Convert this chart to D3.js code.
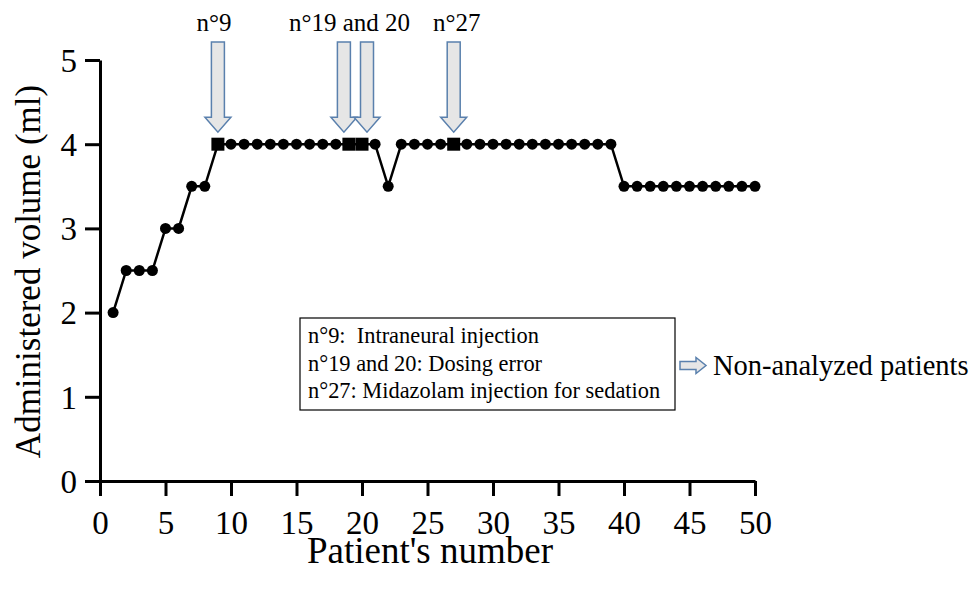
<!DOCTYPE html>
<html>
<head>
<meta charset="utf-8">
<script src="https://cdn.jsdelivr.net/npm/d3@7"></script>
<style>
  body { margin: 0; background: #fff; }
  svg text { font-family: "Liberation Serif", "Times New Roman", Times, "DejaVu Serif", serif !important; }
</style>
</head>
<body>
<script>
const width = 970,
      height = 589

// patient number 1..50 and administered volume (ml)
const patients = d3.range(1, 51)
const volumes = [
  2, 2.5, 2.5, 2.5, 3, 3, 3.5, 3.5, 4, 4,
  4, 4, 4, 4, 4, 4, 4, 4, 4, 4,
  4, 3.5, 4, 4, 4, 4, 4, 4, 4, 4,
  4, 4, 4, 4, 4, 4, 4, 4, 4, 3.5,
  3.5, 3.5, 3.5, 3.5, 3.5, 3.5, 3.5, 3.5, 3.5, 3.5
]
// non-analyzed patients (square markers)
const excluded = [9, 19, 20, 27]
const arrowLabels = ['n°9', 'n°19 and 20', 'n°27']
const arrowGroups = [[9], [19, 20], [27]]
const legendLines = [
  'n°9:  Intraneural injection',
  'n°19 and 20: Dosing error',
  'n°27: Midazolam injection for sedation'
]
const legendNote = 'Non-analyzed patients'
const xTicks = d3.range(0, 51, 5)
const yTicks = [0, 1, 2, 3, 4, 5]

const data = patients.map((p, i) => ({ patient: p, volume: volumes[i] }))

const x = d3.scaleLinear().domain([0, 50]).range([100, 755])
const y = d3.scaleLinear().domain([0, 5]).range([481, 60])

const svg = d3.select('body').append('svg')
    .attr('width', width)
    .attr('height', height)

// axes
const xAxis = svg.append('g')
    .attr('transform', `translate(0,${y(0)})`)
    .call(d3.axisBottom(x).tickValues(xTicks).tickSize(15).tickSizeOuter(0).tickPadding(15))
const yAxis = svg.append('g')
    .attr('transform', `translate(${x(0)},0)`)
    .call(d3.axisLeft(y).tickValues(yTicks).tickSize(15).tickSizeOuter(0).tickPadding(8).tickFormat(d3.format('d')))

;[xAxis, yAxis].forEach(g => {
  g.attr('font-family', null)
  g.selectAll('path, line').attr('stroke', '#000').attr('stroke-width', 3)
  g.selectAll('text')
    .style('font-size', '33px')
    .attr('fill', '#000')
})
yAxis.selectAll('text').attr('dy', '0.34em')

svg.append('text')
    .attr('x', 430)
    .attr('y', 563)
    .attr('text-anchor', 'middle')
    .style('font-size', '37px')
    .text("Patient's number")

svg.append('text')
    .attr('transform', `translate(40,${(60 + 481) / 2 + 1}) rotate(-90)`)
    .attr('text-anchor', 'middle')
    .style('font-size', '35px')
    .text('Administered volume (ml)')

// line
const line = d3.line().x(d => x(d.patient)).y(d => y(d.volume))
svg.append('path')
    .datum(data)
    .attr('d', line)
    .attr('fill', 'none')
    .attr('stroke', '#000')
    .attr('stroke-width', 2.5)

svg.selectAll('circle.pt')
    .data(data.filter(d => !excluded.includes(d.patient)))
    .enter()
    .append('circle')
        .attr('class', 'pt')
        .attr('cx', d => x(d.patient))
        .attr('cy', d => y(d.volume))
        .attr('r', 5.5)
        .attr('fill', '#000')

const sq = 13
svg.selectAll('rect.pt')
    .data(data.filter(d => excluded.includes(d.patient)))
    .enter()
    .append('rect')
        .attr('class', 'pt')
        .attr('x', d => x(d.patient) - sq / 2)
        .attr('y', d => y(d.volume) - sq / 2)
        .attr('width', sq)
        .attr('height', sq)
        .attr('fill', '#000')

// block arrows
const arrowFill = '#e6e6e6',
      arrowStroke = '#5a80ad'

function downArrow(cx, top, tip) {
  const sw = 6.5, hw = 13, hh = 15
  return `M${cx - sw},${top} L${cx + sw},${top} L${cx + sw},${tip - hh} L${cx + hw},${tip - hh}
    L${cx},${tip} L${cx - hw},${tip - hh} L${cx - sw},${tip - hh} Z`
}

function arrowX(p) {
  // spread adjacent arrows apart
  if (excluded.includes(p + 1)) return x(p) - 5
  if (excluded.includes(p - 1)) return x(p) + 5
  return x(p)
}

excluded.forEach(p => {
  const d = data.find(o => o.patient === p)
  svg.append('path')
      .attr('d', downArrow(arrowX(p), 42, y(d.volume) - 12))
      .attr('fill', arrowFill)
      .attr('stroke', arrowStroke)
      .attr('stroke-width', 1.5)
})

// small horizontal nudges of the arrow labels
const labelNudge = [-4, -6, 3]
arrowGroups.forEach((g, i) => {
  svg.append('text')
      .attr('x', d3.mean(g, p => arrowX(p)) + labelNudge[i])
      .attr('y', 31)
      .attr('text-anchor', 'middle')
      .style('font-size', '25px')
      .text(arrowLabels[i])
})

// legend box
const box = { x: 300, y: 318, w: 375, h: 92 }
svg.append('rect')
    .attr('x', box.x)
    .attr('y', box.y)
    .attr('width', box.w)
    .attr('height', box.h)
    .attr('fill', '#fff')
    .attr('stroke', '#000')
    .attr('stroke-width', 1.2)

svg.selectAll('text.leg')
    .data(legendLines)
    .enter()
    .append('text')
        .attr('class', 'leg')
        .attr('x', box.x + 8)
        .attr('y', (d, i) => box.y + 25 + i * 27.5)
        .style('font-size', '22.4px')
        .style('white-space', 'pre')
        .text(d => d)

const ax = box.x + box.w + 5, ay = 365.5
svg.append('path')
    .attr('d', `M${ax},${ay - 4} L${ax + 16},${ay - 4} L${ax + 16},${ay - 8} L${ax + 26},${ay}
      L${ax + 16},${ay + 8} L${ax + 16},${ay + 4} L${ax},${ay + 4} Z`)
    .attr('fill', arrowFill)
    .attr('stroke', arrowStroke)
    .attr('stroke-width', 1.5)

svg.append('text')
    .attr('x', ax + 33)
    .attr('y', ay + 9.5)
    .style('font-size', '28.5px')
    .text(legendNote)
</script>
</body>
</html>
